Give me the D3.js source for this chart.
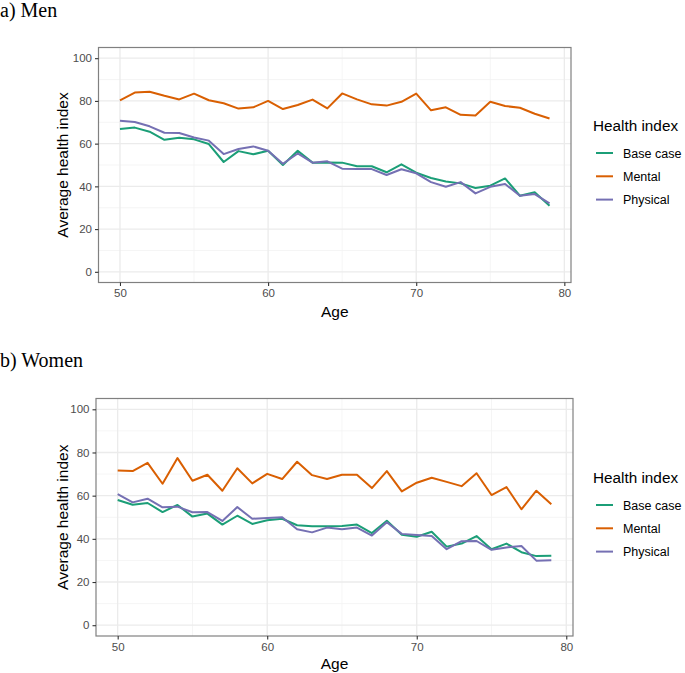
<!DOCTYPE html>
<html>
<head>
<meta charset="utf-8">
<script src="https://cdn.jsdelivr.net/npm/d3@7"></script>
<style>
  html, body { margin: 0; padding: 0; background: #fff; }
  svg { display: block; }
</style>
</head>
<body>
<svg id="chart" width="685" height="673"></svg>
<script>
// ---------------- DATA ----------------
const ages = d3.range(50, 80); // 50..79
const seriesNames = ["Base case", "Mental", "Physical"];
const xTicks = [50, 60, 70, 80];
const yTicks = [0, 20, 40, 60, 80, 100];

const menBase = [66.8, 67.5, 65.6, 61.8, 62.8, 62.0, 59.8, 51.4, 56.5, 55.0,
                 56.7, 50.0, 56.7, 51.1, 51.2, 51.1, 49.4, 49.4, 46.6, 50.3,
                 46.4, 43.9, 42.3, 41.4, 39.2, 40.3, 43.7, 35.6, 37.2, 30.9];
const menMental = [80.3, 83.9, 84.3, 82.4, 80.7, 83.4, 80.3, 78.9, 76.4, 77.0,
                   80.0, 76.2, 78.1, 80.6, 76.5, 83.5, 80.7, 78.4, 77.8, 79.6,
                   83.4, 75.6, 77.0, 73.5, 73.2, 79.6, 77.6, 76.8, 74.0, 71.8];
const menPhysical = [70.7, 70.1, 68.1, 65.1, 65.0, 62.9, 61.4, 55.1, 57.5, 58.7,
                     56.7, 50.6, 55.4, 51.1, 51.7, 48.3, 48.1, 48.1, 45.3, 48.0,
                     46.1, 42.0, 39.8, 42.0, 36.7, 39.8, 41.1, 35.6, 36.4, 32.0];

const womenBase = [58.0, 55.8, 56.6, 52.4, 55.7, 50.3, 51.7, 46.6, 50.7, 46.9,
                   48.6, 49.3, 46.3, 45.8, 45.8, 46.0, 46.6, 42.7, 48.4, 41.9,
                   41.0, 43.3, 36.4, 37.8, 41.3, 35.2, 37.8, 33.8, 32.0, 32.2];
const womenMental = [71.7, 71.4, 75.2, 65.5, 77.4, 66.9, 69.7, 62.3, 72.7, 65.7,
                     70.1, 67.7, 75.7, 69.5, 67.7, 69.7, 69.7, 63.5, 71.4, 62.0,
                     66.0, 68.3, 66.4, 64.4, 70.4, 60.3, 64.0, 53.7, 62.3, 56.0];
const womenPhysical = [60.7, 56.9, 58.6, 54.6, 54.9, 52.3, 52.4, 48.3, 54.7, 49.3,
                       49.7, 50.0, 44.4, 43.0, 45.2, 44.4, 45.2, 41.5, 47.7, 42.3,
                       41.8, 41.3, 35.2, 38.9, 39.0, 34.9, 36.0, 36.7, 29.9, 30.1];

// ---------------- STYLE / LAYOUT ----------------
const colors = d3.scaleOrdinal().domain(seriesNames).range(["#1B9E77", "#D95F02", "#7570B3"]);
const sans = "'Liberation Sans', Arial, sans-serif";
const serif = "'Liberation Serif', 'Times New Roman', serif";

const panels = [
  { title: "a) Men", titleY: 17, box: { l: 98.5, r: 571, t: 47.5, b: 282.5 },
    legendY: 131, ageY: 317,
    series: [menBase, menMental, menPhysical] },
  { title: "b) Women", titleY: 367, box: { l: 96, r: 573, t: 398.5, b: 636 },
    legendY: 483, ageY: 668.5,
    series: [womenBase, womenMental, womenPhysical] }
];

const svg = d3.select("#chart");
const xDom = [50, 79], yDom = [0, 100];
const xPad = (xDom[1] - xDom[0]) * 0.05, yPad = (yDom[1] - yDom[0]) * 0.05;

panels.forEach(p => {
  const { l, r, t, b } = p.box;
  const x = d3.scaleLinear().domain([xDom[0] - xPad, xDom[1] + xPad]).range([l, r]);
  const y = d3.scaleLinear().domain([yDom[0] - yPad, yDom[1] + yPad]).range([b, t]);

  const g = svg.append("g");

  // title
  svg.append("text").attr("x", 0).attr("y", p.titleY)
    .attr("font-family", serif).attr("font-size", 20).attr("fill", "#000")
    .text(p.title);

  // minor grid
  const yMinor = [10, 30, 50, 70, 90];
  const xMinor = [55, 65, 75];
  g.selectAll(".ymin").data(yMinor).join("line")
    .attr("x1", l).attr("x2", r).attr("y1", d => y(d)).attr("y2", d => y(d))
    .attr("stroke", "#f2f2f2").attr("stroke-width", 0.8);
  g.selectAll(".xmin").data(xMinor).join("line")
    .attr("y1", t).attr("y2", b).attr("x1", d => x(d)).attr("x2", d => x(d))
    .attr("stroke", "#f2f2f2").attr("stroke-width", 0.8);
  // major grid
  g.append("g").selectAll("line").data(yTicks).join("line")
    .attr("x1", l).attr("x2", r).attr("y1", d => y(d)).attr("y2", d => y(d))
    .attr("stroke", "#ebebeb").attr("stroke-width", 1.3);
  g.append("g").selectAll("line").data(xTicks).join("line")
    .attr("y1", t).attr("y2", b).attr("x1", d => x(d)).attr("x2", d => x(d))
    .attr("stroke", "#ebebeb").attr("stroke-width", 1.3);

  // lines
  const line = d3.line().x((d, i) => x(ages[i])).y(d => y(d));
  p.series.forEach((vals, si) => {
    g.append("path").datum(vals)
      .attr("d", line)
      .attr("fill", "none")
      .attr("stroke", colors(seriesNames[si]))
      .attr("stroke-width", 2)
      .attr("stroke-linejoin", "round");
  });

  // border
  g.append("rect").attr("x", l).attr("y", t).attr("width", r - l).attr("height", b - t)
    .attr("fill", "none").attr("stroke", "#808080").attr("stroke-width", 1.2);

  // axes
  const xAxis = d3.axisBottom(x).tickValues(xTicks).tickSize(3.5).tickPadding(3);
  const yAxis = d3.axisLeft(y).tickValues(yTicks).tickSize(3.5).tickPadding(3);
  const gx = g.append("g").attr("transform", `translate(0,${b})`).call(xAxis);
  const gy = g.append("g").attr("transform", `translate(${l},0)`).call(yAxis);
  [gx, gy].forEach(ax => {
    ax.select(".domain").remove();
    ax.selectAll(".tick line").attr("stroke", "#333").attr("stroke-width", 1.1);
    ax.selectAll(".tick text").attr("fill", "#4d4d4d")
      .attr("font-family", sans).attr("font-size", 11.5);
  });

  // axis titles
  g.append("text").attr("x", (l + r) / 2).attr("y", p.ageY)
    .attr("text-anchor", "middle").attr("font-family", sans).attr("font-size", 15.5)
    .attr("fill", "#000").text("Age");
  g.append("text")
    .attr("transform", `translate(68,${(t + b) / 2}) rotate(-90)`)
    .attr("text-anchor", "middle").attr("font-family", sans).attr("font-size", 15.5)
    .attr("fill", "#000").text("Average health index");

  // legend
  const lg = g.append("g");
  lg.append("text").attr("x", 593).attr("y", p.legendY)
    .attr("font-family", sans).attr("font-size", 15.3).attr("fill", "#000")
    .text("Health index");
  seriesNames.forEach((name, i) => {
    const ky = p.legendY + 22 + i * 23.3;
    lg.append("line").attr("x1", 596).attr("x2", 613).attr("y1", ky).attr("y2", ky)
      .attr("stroke", colors(name)).attr("stroke-width", 2);
    lg.append("text").attr("x", 623).attr("y", ky + 4.5)
      .attr("font-family", sans).attr("font-size", 12.5).attr("fill", "#000")
      .text(name);
  });
});
</script>
</body>
</html>
